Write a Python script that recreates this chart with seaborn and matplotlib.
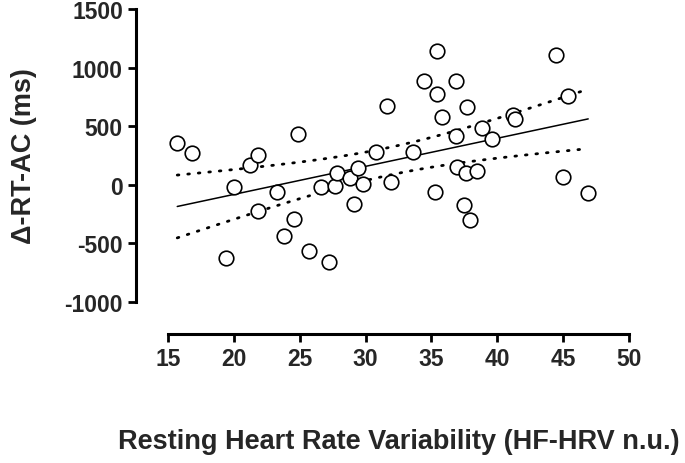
import numpy as np
import pandas as pd
from matplotlib import pyplot as plt
import seaborn as sns

# resting HF-HRV (n.u.) and change in RT (ms)
hrv = [15.7, 16.8, 19.4, 20.0, 21.25, 21.8, 21.8, 23.25, 23.8, 24.6,
       24.9, 25.7, 26.6, 27.25, 27.7, 27.8, 28.8, 29.4, 29.15, 29.8,
       30.8, 31.6, 31.9, 33.6, 34.4, 35.4, 35.4, 35.3, 35.8, 36.9,
       36.85, 36.95, 37.6, 37.7, 37.45, 37.95, 38.45, 38.8, 39.6, 41.2,
       41.35, 44.45, 45.35, 45.0, 46.9]
delta_rt = [358, 274, -624, -23, 167, 257, -226, -59, -438, -294,
            430, -562, -17, -658, -8, 99, 54, 147, -167, 11,
            280, 669, 28, 282, 890, 1146, 777, -65, 579, 887,
            415, 150, 99, 663, -169, -299, 119, 483, 387, 593,
            559, 1110, 760, 70, -74]

x_ticks = [15, 20, 25, 30, 35, 40, 45, 50]
y_ticks = [-1000, -500, 0, 500, 1000, 1500]

df = pd.DataFrame({'hrv': hrv, 'rt': delta_rt})

sns.set_style('ticks')
plt.rcParams['font.family'] = ['Liberation Sans', 'DejaVu Sans']
plt.rcParams['font.weight'] = 'bold'
plt.rcParams['axes.unicode_minus'] = False

fig = plt.figure(figsize=(6.85, 4.64), dpi=100)
ax = fig.add_axes([0.2453, 0.347, 0.673, 0.6314])

# ordinary least squares fit and 95% CI of the mean
x = df['hrv'].values
y = df['rt'].values
n = len(x)
slope, intercept = np.polyfit(x, y, 1)
resid = y - (slope * x + intercept)
s_err = np.sqrt(np.sum(resid ** 2) / (n - 2))
t_val = 2.017  # t(0.975, df=43)
xs = np.linspace(x.min(), x.max(), 100)
ys = slope * xs + intercept
half = t_val * s_err * np.sqrt(1 / n + (xs - x.mean()) ** 2 / np.sum((x - x.mean()) ** 2))

ax.plot(xs, ys, color='black', lw=1.1, zorder=2)
ax.plot(xs, ys + half, color='black', lw=2.0, ls=(0, (0.6, 3.2)),
        dash_capstyle='round', zorder=2)
ax.plot(xs, ys - half, color='black', lw=2.0, ls=(0, (0.6, 3.2)),
        dash_capstyle='round', zorder=2)

sns.scatterplot(data=df, x='hrv', y='rt', ax=ax, s=110, marker='o',
                facecolor='white', edgecolor='black', linewidth=1.2,
                zorder=3, clip_on=False)

ax.set_xlim(15, 50)
ax.set_ylim(-1000, 1500)
ax.set_xticks(x_ticks)
ax.set_yticks(y_ticks)
ax.tick_params(axis='both', labelsize=16.5, width=2, length=6, color='black')
for lab in ax.get_xticklabels() + ax.get_yticklabels():
    lab.set_fontweight('bold')

ax.set_xlabel('Resting Heart Rate Variability (HF-HRV n.u.)',
              fontsize=19.5, fontweight='bold', labelpad=42)
ax.set_ylabel('Δ-RT-AC (ms)', fontsize=19.5, fontweight='bold', labelpad=20)

sns.despine(ax=ax, offset=23, trim=True)
for side in ['left', 'bottom']:
    ax.spines[side].set_linewidth(2.2)
    ax.spines[side].set_color('black')

fig.savefig('out.png', dpi=100)
